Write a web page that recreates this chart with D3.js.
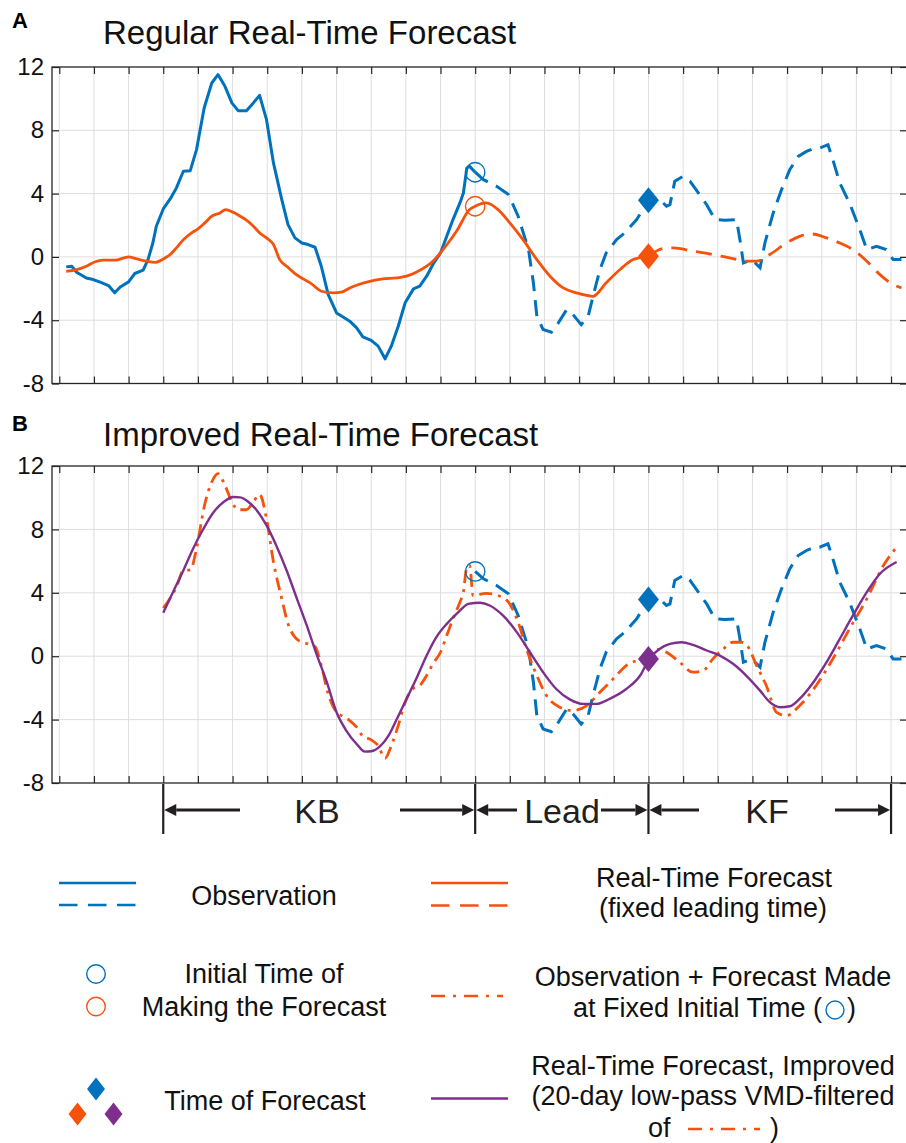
<!DOCTYPE html>
<html><head><meta charset="utf-8">
<script src="https://cdn.jsdelivr.net/npm/d3@7"></script>
<style>
body{margin:0;background:#fff}
svg{display:block}
text{font-family:"Liberation Sans",Arial,Helvetica,sans-serif}
</style>
</head><body>
<svg id="c" width="906" height="1143"></svg>
<script>
// ---------------- DATA ----------------
const xTickDays = [0,5,10,15,20,25,30,35,40,45,50,55,60,65,70,75,80,85,90,95,100,105,110,115,120];
const yTickVals = [-8,-4,0,4,8,12];
const yTickLabels = ["-8","-4","0","4","8","12"];

// Observation (day, value)
const obsDay = [1.0,1.8,2.5,3.9,4.9,5.9,7.1,8.0,8.8,10.0,10.9,12.1,12.8,13.5,14.0,15.0,16.0,16.9,17.9,18.9,19.8,20.9,22.0,22.9,23.9,24.9,25.8,27.0,28.0,28.9,29.9,30.9,32.1,33.0,34.0,35.0,35.9,36.9,37.8,38.8,40.0,41.0,41.9,42.9,43.8,45.0,46.0,47.0,47.9,48.9,49.9,51.1,52.0,53.0,53.9,55.0,55.9,56.8,57.8,58.3,58.8,59.2,60.0,61.2,63.1,64.8,66.2,67.7,68.4,68.9,69.8,71.0,72.0,73.2,74.1,75.3,76.3,77.0,78.0,78.9,80.4,81.6,83.3,84.5,85.0,86.4,87.6,88.1,88.8,90.0,91.0,92.2,93.4,94.6,96.0,97.7,98.2,98.7,99.9,101.1,101.8,103.0,104.2,105.4,106.6,107.8,109.0,109.7,110.9,111.6,112.6,114.0,115.5,116.5,117.9,119.3,120.3,121.5];
const obsVal = [-0.63,-0.59,-0.97,-1.33,-1.43,-1.6,-1.81,-2.27,-1.9,-1.58,-1.05,-0.84,-0.17,0.88,1.94,3.03,3.66,4.36,5.41,5.45,6.78,9.41,10.99,11.52,10.78,9.73,9.24,9.24,9.73,10.21,8.67,5.94,3.62,2.04,1.2,0.88,0.78,0.61,-0.59,-2.38,-3.54,-3.81,-4.06,-4.48,-5.05,-5.28,-5.64,-6.44,-5.64,-4.38,-2.9,-2.02,-1.85,-1.22,-0.48,0.25,1.31,2.36,3.41,4.04,5.62,5.72,5.35,4.88,4.46,3.94,2.57,0.46,-1.64,-3.75,-4.59,-4.76,-4.17,-3.33,-3.64,-4.28,-3.75,-2.49,-0.8,0.25,1.09,1.52,2.36,3.2,3.58,3.73,3.2,3.3,4.78,5.09,4.78,4.04,3.3,2.36,2.31,2.36,1.09,-0.38,-0.17,-0.69,0.88,2.78,4.25,5.52,6.35,6.67,6.88,6.88,7.09,6.15,4.67,3.41,1.72,0.46,0.67,0.46,-0.17,-0.17];

// Regular real-time forecast (fixed leading time)
const rtDay = [1.0,2.5,3.9,5.1,6.3,8.0,10.0,11.2,12.6,13.9,15.0,16.0,16.9,17.9,19.1,20.0,21.0,22.0,23.2,24.0,25.1,26.1,27.0,28.0,28.9,29.9,30.9,31.8,32.8,34.0,35.2,36.2,36.9,37.8,39.5,40.7,41.9,43.4,44.8,46.7,48.7,50.1,51.5,53.0,53.9,54.9,56.1,57.3,59.2,60.0,61.6,63.3,65.0,66.9,68.9,70.8,72.7,74.6,77.0,78.9,80.9,82.8,85.0,87.1,88.6,91.4,94.3,96.7,99.1,100.6,102.5,104.9,106.8,108.5,110.7,112.6,114.5,116.5,118.4,120.3,121.5];
const rtVal = [-0.91,-0.8,-0.59,-0.32,-0.21,-0.21,0.0,-0.13,-0.27,-0.34,-0.13,0.15,0.57,1.09,1.52,1.77,2.15,2.57,2.78,2.99,2.82,2.57,2.32,1.94,1.52,1.2,0.78,-0.17,-0.59,-1.05,-1.39,-1.64,-1.89,-2.17,-2.27,-2.23,-1.96,-1.71,-1.54,-1.39,-1.33,-1.22,-0.97,-0.59,-0.27,0.21,0.88,1.62,2.99,3.2,3.41,2.99,2.15,1.09,-0.17,-1.22,-1.96,-2.27,-2.49,-1.64,-0.8,-0.17,0.04,0.53,0.57,0.36,0.15,-0.06,-0.27,-0.27,0.15,0.88,1.3,1.45,1.2,0.88,0.46,-0.27,-1.12,-1.75,-1.96];

// Forecast made at the fixed initial time (continuation of dash-dot after observation)
const initFcDay = [59.7,61.6,63.3,64.8,66.2,67.4,68.9,70.3,72.2,74.1,76.1,78.0,79.9,81.8,83.8,85.9,87.6,89.5,91.4,92.9,94.3,95.8,97.2,98.4,99.4,100.6,102.0,103.5,104.9,106.8,109.2,111.6,114.0,116.5,118.9,120.8];
const initFcVal = [3.83,3.96,3.83,3.41,2.15,0.46,-1.22,-2.49,-3.22,-3.43,-3.12,-2.27,-1.43,-0.59,-0.17,0.46,0.25,-0.38,-1.01,-0.91,-0.17,0.46,0.88,0.88,0.57,-0.59,-1.85,-3.54,-3.75,-3.12,-1.85,-0.17,1.72,3.62,5.72,6.88];

// Improved real-time forecast (20-day low-pass VMD filtered)
const impDay = [15.0,16.4,17.9,19.3,20.8,22.2,23.7,25.1,26.1,27.3,28.5,29.9,31.3,32.8,34.2,35.7,37.1,38.6,40.0,41.4,42.9,44.1,45.0,46.3,47.5,48.7,50.1,51.5,53.0,54.4,55.9,56.8,57.8,59.0,60.7,62.1,64.0,66.0,67.9,69.8,71.7,73.7,75.6,77.5,79.4,81.8,83.8,85.1,86.6,88.1,89.8,91.4,93.4,95.3,97.2,99.1,101.1,102.5,104.0,105.4,106.8,108.8,110.7,112.6,114.5,116.5,118.4,120.8];
const impVal = [2.74,4.04,5.41,6.78,8.04,9.05,9.73,10.04,10.02,9.73,9.2,8.25,6.99,5.41,3.73,1.94,0.15,-1.64,-3.54,-4.69,-5.54,-6.02,-6.0,-5.68,-5.01,-3.96,-2.69,-1.43,0.04,1.2,2.04,2.45,2.88,3.3,3.37,3.2,2.57,1.52,0.25,-1.01,-2.07,-2.74,-3.01,-3.01,-2.69,-2.07,-1.22,-0.17,0.46,0.78,0.88,0.71,0.36,0.04,-0.48,-1.22,-2.17,-2.9,-3.22,-3.16,-2.69,-1.64,-0.38,1.09,2.57,4.04,5.2,5.94];

// Key times
const kbStartDay = 15, initDay = 60, forecastDay = 85, kfEndDay = 120;
const initObsVal = 5.35, initRtVal = 3.2;
const fcObsVal = 3.58, fcRtVal = 0.04, fcImpVal = -0.17;
const periodLabels = ["KB","Lead","KF"];

// ---------------- STYLE ----------------
const BLUE = "#0072BD", ORANGE = "#F6520C", PURPLE = "#7E2F8E", AXC = "#262626", GRID = "#dedede";
const svg = d3.select("#c");
const x = d3.scaleLinear().domain([-1.05, 122.3]).range([52, 907]);
const pts = (ds, vs) => ds.map((d,i)=>({d, v: vs[i]}));
const obs = pts(obsDay, obsVal), rt = pts(rtDay, rtVal), initFc = pts(initFcDay, initFcVal), imp = pts(impDay, impVal);

function panel(top, bottom, label, title, labelY, titleY) {
  const y = d3.scaleLinear().domain([-8, 12]).range([bottom, top]);
  const g = svg.append("g");
  g.append("g").selectAll("line").data(xTickDays).join("line")
    .attr("x1", d=>x(d)).attr("x2", d=>x(d)).attr("y1", top).attr("y2", bottom)
    .attr("stroke", GRID).attr("stroke-width", 1);
  g.append("g").selectAll("line").data(yTickVals.slice(1,-1)).join("line")
    .attr("x1", 52).attr("x2", 907).attr("y1", d=>y(d)).attr("y2", d=>y(d))
    .attr("stroke", GRID).attr("stroke-width", 1);
  const ax = (sel) => sel.call(s => s.select(".domain").remove())
      .call(s => s.selectAll(".tick line").attr("stroke", AXC).attr("stroke-width", 1.2));
  g.append("g").attr("transform", `translate(0,${bottom})`)
    .call(d3.axisBottom(x).tickValues(xTickDays).tickSize(-7).tickFormat("")).call(ax);
  g.append("g").attr("transform", `translate(0,${top})`)
    .call(d3.axisTop(x).tickValues(xTickDays).tickSize(-7).tickFormat("")).call(ax);
  const la = g.append("g").attr("transform", `translate(52,0)`)
    .call(d3.axisLeft(y).tickValues(yTickVals).tickSize(-7).tickPadding(8)
      .tickFormat((d,i)=>yTickLabels[i])).call(ax);
  la.selectAll("text").attr("font-size", 24).attr("fill", "#111")
    .attr("font-family", '"Liberation Sans",Arial,sans-serif');
  g.append("g").attr("transform", `translate(907,0)`)
    .call(d3.axisRight(y).tickValues(yTickVals).tickSize(-7).tickFormat("")).call(ax);
  g.append("rect").attr("x", 52).attr("y", top).attr("width", 855).attr("height", bottom-top)
    .attr("fill", "none").attr("stroke", AXC).attr("stroke-width", 1.3);
  svg.append("text").attr("x", 12).attr("y", labelY).attr("font-size", 22).attr("font-weight", "bold").text(label);
  svg.append("text").attr("x", 103).attr("y", titleY).attr("font-size", 33).attr("fill", "#111").text(title);
  return {g, y};
}

function diamond(g, cx, cy, w, h, color) {
  g.append("path").attr("d", `M${cx},${cy-h}L${cx+w},${cy}L${cx},${cy+h}L${cx-w},${cy}Z`).attr("fill", color);
}

const lineOf = (y, curve) => d3.line().x(p=>x(p.d)).y(p=>y(p.v)).curve(curve || d3.curveLinear);

// Panel A
{
  const {g, y} = panel(67, 383.5, "A", "Regular Real-Time Forecast", 28, 44);
  g.append("path").datum(obs.filter(p=>p.d<=initDay)).attr("d", lineOf(y))
    .attr("fill","none").attr("stroke",BLUE).attr("stroke-width",3).attr("stroke-linejoin","round");
  g.append("path").datum(obs.filter(p=>p.d>=initDay)).attr("d", lineOf(y))
    .attr("fill","none").attr("stroke",BLUE).attr("stroke-width",3).attr("stroke-dasharray","16,9");
  g.append("path").datum(rt.filter(p=>p.d<=forecastDay)).attr("d", lineOf(y, d3.curveMonotoneX))
    .attr("fill","none").attr("stroke",ORANGE).attr("stroke-width",2.8);
  g.append("path").datum(rt.filter(p=>p.d>=forecastDay)).attr("d", lineOf(y, d3.curveMonotoneX))
    .attr("fill","none").attr("stroke",ORANGE).attr("stroke-width",2.8).attr("stroke-dasharray","16,9");
  g.append("circle").attr("cx", x(initDay)).attr("cy", y(initObsVal)).attr("r", 9.7)
    .attr("fill","none").attr("stroke",BLUE).attr("stroke-width",1.4);
  g.append("circle").attr("cx", x(initDay)).attr("cy", y(initRtVal)).attr("r", 9.7)
    .attr("fill","none").attr("stroke",ORANGE).attr("stroke-width",1.4);
  diamond(g, x(forecastDay), y(fcObsVal), 10.5, 13, BLUE);
  diamond(g, x(forecastDay), y(fcRtVal), 10.5, 13, ORANGE);
}

// Panel B
{
  const {g, y} = panel(466, 783, "B", "Improved Real-Time Forecast", 431, 446);
  const dd = obs.filter(p=>p.d>=kbStartDay && p.d<initDay-0.5).concat(initFc);
  g.append("path").datum(obs.filter(p=>p.d>=initDay)).attr("d", lineOf(y))
    .attr("fill","none").attr("stroke",BLUE).attr("stroke-width",3).attr("stroke-dasharray","16,9");
  g.append("path").datum(dd).attr("d", lineOf(y, d3.curveMonotoneX))
    .attr("fill","none").attr("stroke",ORANGE).attr("stroke-width",2.8).attr("stroke-dasharray","13,6,3,6");
  g.append("path").datum(imp).attr("d", lineOf(y, d3.curveMonotoneX))
    .attr("fill","none").attr("stroke",PURPLE).attr("stroke-width",2.4);
  g.append("circle").attr("cx", x(initDay)).attr("cy", y(initObsVal)).attr("r", 9.7)
    .attr("fill","none").attr("stroke",BLUE).attr("stroke-width",1.4);
  diamond(g, x(forecastDay), y(fcObsVal), 10.5, 13, BLUE);
  diamond(g, x(forecastDay), y(fcImpVal), 10.5, 13, PURPLE);
}

// Period annotation
{
  const ink = "#231F20";
  const g = svg.append("g");
  const bounds = [kbStartDay, initDay, forecastDay, kfEndDay];
  const yA = 810;
  bounds.forEach(d => g.append("line").attr("x1", x(d)).attr("x2", x(d)).attr("y1", 784).attr("y2", 834)
    .attr("stroke", ink).attr("stroke-width", 2.2));
  function arrow(x0, x1) {
    const dir = Math.sign(x1 - x0), hl = 12, hw = 6;
    g.append("line").attr("x1", x0).attr("x2", x1 - dir*hl).attr("y1", yA).attr("y2", yA)
      .attr("stroke", ink).attr("stroke-width", 3);
    g.append("path").attr("d", `M${x1},${yA}L${x1-dir*hl},${yA-hw}L${x1-dir*hl},${yA+hw}Z`).attr("fill", ink);
  }
  arrow(240, x(kbStartDay)+1); arrow(400, x(initDay)-1);
  arrow(517, x(initDay)+1); arrow(601, x(forecastDay)-1);
  arrow(699, x(forecastDay)+1); arrow(835, x(kfEndDay)-1);
  const cx = [317, 562, 767];
  periodLabels.forEach((t,i)=> g.append("text").attr("x", cx[i]).attr("y", 823).attr("text-anchor","middle")
    .attr("font-size", 34).attr("fill", ink).text(t));
}

// Legend
{
  const g = svg.append("g");
  const fs = 27;
  const txt = (x0, y0, t, anchor) => g.append("text").attr("x", x0).attr("y", y0).attr("text-anchor", anchor || "middle")
    .attr("font-size", fs).attr("fill", "#111").text(t);
  const seg = (x0, x1, y0, color, dash, w) => g.append("line").attr("x1", x0).attr("x2", x1).attr("y1", y0).attr("y2", y0)
    .attr("stroke", color).attr("stroke-width", w || 2.6).attr("stroke-dasharray", dash || null);
  seg(59, 136, 883, BLUE); seg(59, 136, 905, BLUE, "18.5,10.5");
  txt(264, 905, "Observation");
  seg(431, 508, 883, ORANGE); seg(431, 508, 905.5, ORANGE, "18.5,10.5");
  txt(714, 887, "Real-Time Forecast");
  txt(713, 917, "(fixed leading time)");
  g.append("circle").attr("cx", 96).attr("cy", 974).attr("r", 9.3).attr("fill","none").attr("stroke",BLUE).attr("stroke-width",1.4);
  g.append("circle").attr("cx", 96).attr("cy", 1006.5).attr("r", 9.3).attr("fill","none").attr("stroke",ORANGE).attr("stroke-width",1.4);
  txt(264, 983, "Initial Time of");
  txt(264, 1016, "Making the Forecast");
  seg(431, 503, 996, ORANGE, "14,8,3,8");
  txt(713, 986, "Observation + Forecast Made");
  txt(822, 1017, "at Fixed Initial Time (", "end");
  g.append("circle").attr("cx", 835).attr("cy", 1010).attr("r", 9).attr("fill","none").attr("stroke",BLUE).attr("stroke-width",1.4);
  txt(847, 1017, ")", "start");
  diamond(g, 96, 1089, 9, 11.5, BLUE);
  diamond(g, 77.5, 1114, 9, 11.5, ORANGE);
  diamond(g, 113.5, 1114, 9, 11.5, PURPLE);
  txt(265, 1110, "Time of Forecast");
  seg(431, 508, 1098.5, PURPLE);
  txt(713, 1075, "Real-Time Forecast, Improved");
  txt(713, 1105, "(20-day low-pass VMD-filtered");
  txt(648, 1137, "of", "start");
  seg(688, 760, 1129, ORANGE, "14,8,3,8");
  txt(770, 1137, ")", "start");
}
</script>
</body></html>
